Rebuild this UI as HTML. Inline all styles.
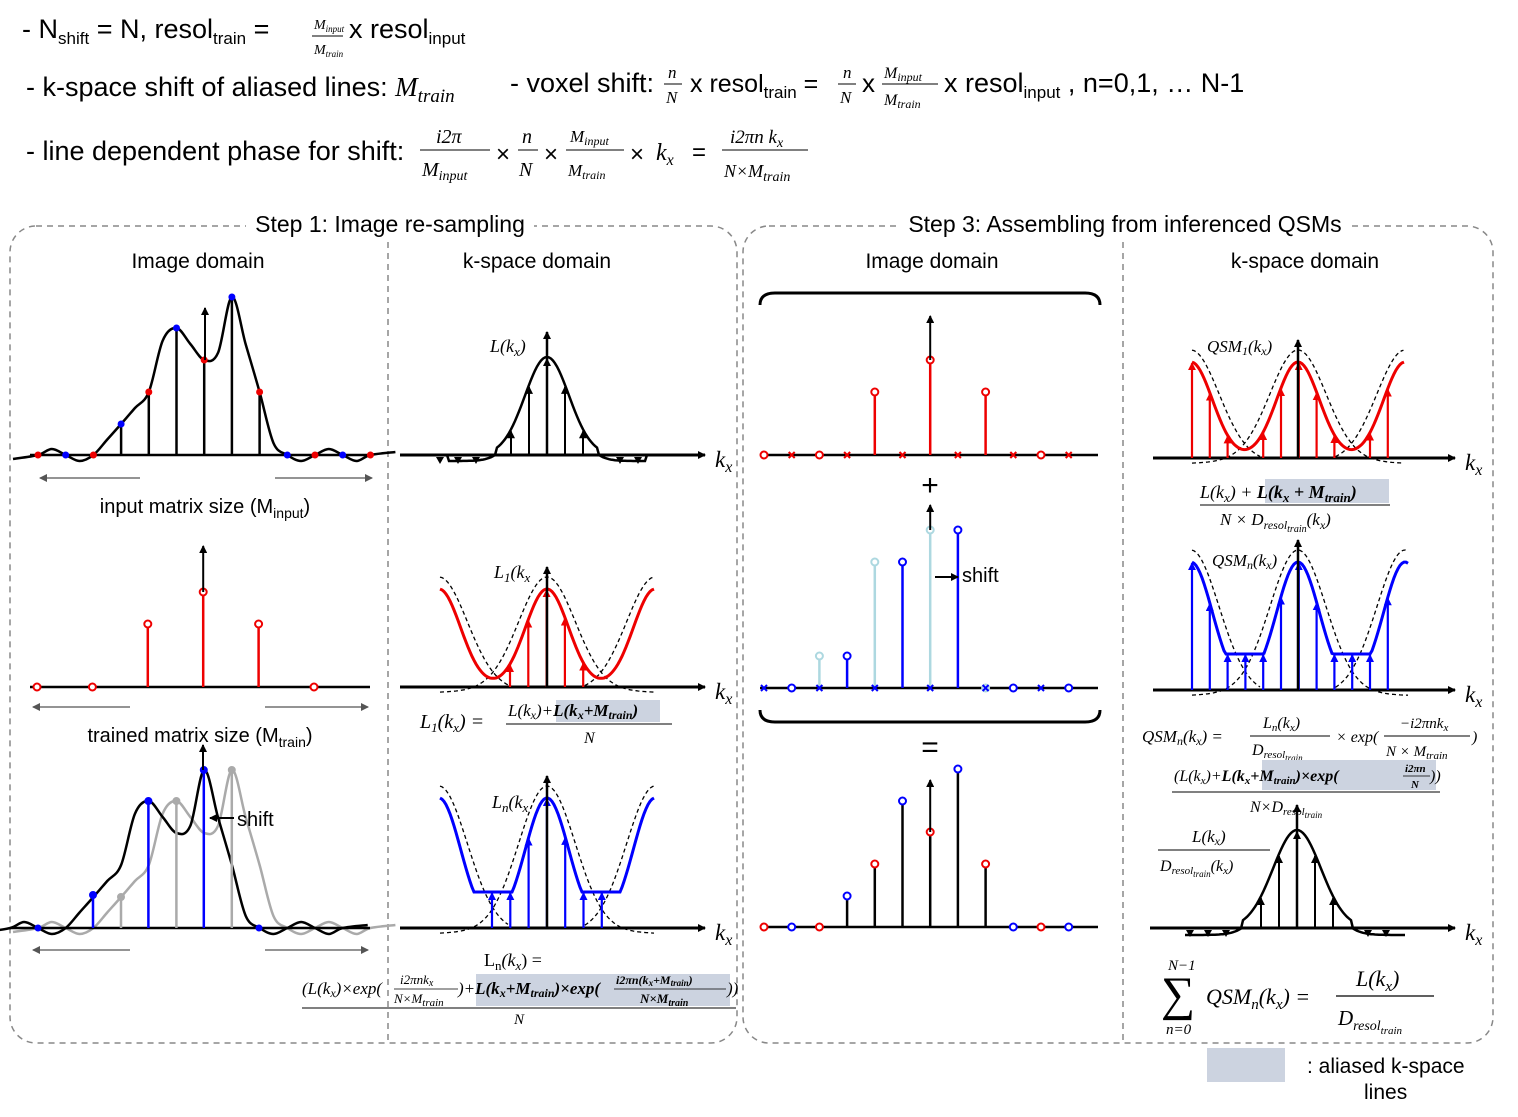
<!DOCTYPE html>
<html><head><meta charset="utf-8"><style>
html,body{margin:0;padding:0;background:#fff}
svg{display:block}
.s{font-family:"Liberation Sans",sans-serif;fill:#000}
.m{font-family:"Liberation Serif",serif;font-style:italic;fill:#000}
</style></head><body>
<svg id="c" width="1518" height="1117" viewBox="0 0 1518 1117" xmlns="http://www.w3.org/2000/svg">
<defs>
<marker id="ab" markerWidth="8" markerHeight="8" refX="7" refY="4" orient="auto" markerUnits="userSpaceOnUse"><path d="M0,0 L8,4 L0,8 z" fill="#000"/></marker>
<marker id="ar" markerWidth="8" markerHeight="8" refX="7" refY="4" orient="auto" markerUnits="userSpaceOnUse"><path d="M0,0 L8,4 L0,8 z" fill="#e00"/></marker>
<marker id="au" markerWidth="8" markerHeight="8" refX="7" refY="4" orient="auto" markerUnits="userSpaceOnUse"><path d="M0,0 L8,4 L0,8 z" fill="#00f"/></marker>
<marker id="ag" markerWidth="8" markerHeight="8" refX="7" refY="4" orient="auto" markerUnits="userSpaceOnUse"><path d="M0,0 L8,4 L0,8 z" fill="#555"/></marker>
</defs>
<g>
<text class="s" x="22" y="38" font-size="27">- N<tspan font-size="17" dy="6">shift</tspan><tspan dy="-6"> = N, resol</tspan><tspan font-size="17" dy="6">train</tspan><tspan dy="-6"> =</tspan></text>
<text class="m" x="314" y="29" font-size="14">M<tspan font-size="9" dy="3">input</tspan></text>
<line x1="312" y1="36" x2="343" y2="36" stroke="#000"/>
<text class="m" x="314" y="54" font-size="14">M<tspan font-size="9" dy="3">train</tspan></text>
<text class="s" x="349" y="38" font-size="27">x resol<tspan font-size="17" dy="6">input</tspan></text>
<text class="s" x="26" y="96" font-size="27">- k-space shift of aliased lines: <tspan font-family="Liberation Serif" font-style="italic">M</tspan><tspan font-family="Liberation Serif" font-style="italic" font-size="19" dy="6">train</tspan></text>
<text class="s" x="510" y="92" font-size="27">- voxel shift:</text>
<text class="m" x="668" y="78" font-size="17">n</text><line x1="664" y1="84" x2="682" y2="84" stroke="#000"/><text class="m" x="666" y="103" font-size="17">N</text>
<text class="s" x="690" y="92" font-size="25">x resol<tspan font-size="17" dy="6">train</tspan><tspan dy="-6"> =</tspan></text>
<text class="m" x="843" y="78" font-size="17">n</text><line x1="838" y1="84" x2="856" y2="84" stroke="#000"/><text class="m" x="840" y="103" font-size="17">N</text>
<text class="s" x="862" y="92" font-size="26">x</text>
<text class="m" x="884" y="78" font-size="16">M<tspan font-size="12" dy="3">input</tspan></text><line x1="882" y1="84" x2="938" y2="84" stroke="#000"/><text class="m" x="884" y="105" font-size="16">M<tspan font-size="12" dy="3">train</tspan></text>
<text class="s" x="944" y="92" font-size="27">x resol<tspan font-size="17" dy="6">input</tspan><tspan dy="-6"> , n=0,1, … N-1</tspan></text>
<text class="s" x="26" y="160" font-size="27">- line dependent phase for shift:</text>
<text class="m" x="436" y="143" font-size="20">i2π</text><line x1="420" y1="150" x2="490" y2="150" stroke="#000"/><text class="m" x="422" y="176" font-size="20">M<tspan font-size="14" dy="4">input</tspan></text>
<text class="s" x="496" y="162" font-size="24">×</text>
<text class="m" x="522" y="143" font-size="20">n</text><line x1="518" y1="150" x2="538" y2="150" stroke="#000"/><text class="m" x="519" y="176" font-size="20">N</text>
<text class="s" x="544" y="162" font-size="24">×</text>
<text class="m" x="570" y="142" font-size="17">M<tspan font-size="12" dy="3">input</tspan></text><line x1="566" y1="150" x2="624" y2="150" stroke="#000"/><text class="m" x="568" y="176" font-size="17">M<tspan font-size="12" dy="3">train</tspan></text>
<text class="s" x="630" y="162" font-size="24">×</text>
<text class="m" x="656" y="160" font-size="24">k<tspan font-size="16" dy="5">x</tspan></text>
<text class="s" x="692" y="160" font-size="24">=</text>
<text class="m" x="730" y="143" font-size="19">i2πn k<tspan font-size="14" dy="4">x</tspan></text><line x1="722" y1="150" x2="808" y2="150" stroke="#000"/><text class="m" x="724" y="177" font-size="18">N×M<tspan font-size="14" dy="4">train</tspan></text>
</g>
<g>
<rect x="10" y="226" width="727" height="817" rx="26" fill="none" stroke="#888" stroke-width="1.5" stroke-dasharray="6,5"/>
<rect x="246" y="210" width="288" height="30" fill="#fff"/>
<text class="s" x="390" y="232" font-size="23" text-anchor="middle">Step 1: Image re-sampling</text>
<line x1="388" y1="242" x2="388" y2="1043" stroke="#888" stroke-width="1.5" stroke-dasharray="6,5"/>
<text class="s" x="198" y="268" font-size="21" text-anchor="middle">Image domain</text>
<text class="s" x="537" y="268" font-size="21" text-anchor="middle">k-space domain</text>
</g>
<g>
<rect x="743" y="226" width="750" height="817" rx="26" fill="none" stroke="#888" stroke-width="1.5" stroke-dasharray="6,5"/>
<rect x="898" y="210" width="454" height="30" fill="#fff"/>
<text class="s" x="1125" y="232" font-size="23" text-anchor="middle">Step 3: Assembling from inferenced QSMs</text>
<line x1="1123" y1="242" x2="1123" y2="1043" stroke="#888" stroke-width="1.5" stroke-dasharray="6,5"/>
<text class="s" x="932" y="268" font-size="21" text-anchor="middle">Image domain</text>
<text class="s" x="1305" y="268" font-size="21" text-anchor="middle">k-space domain</text>
</g>
<g id="marks"></g>
<g>
<text class="s" x="205" y="513" font-size="20" text-anchor="middle">input matrix size (M<tspan font-size="14" dy="5">input</tspan><tspan dy="-5">)</tspan></text>
<text class="s" x="200" y="742" font-size="20" text-anchor="middle">trained matrix size (M<tspan font-size="14" dy="5">train</tspan><tspan dy="-5">)</tspan></text>
<text class="s" x="237" y="826" font-size="20">shift</text>
<line x1="234" y1="818" x2="210" y2="818" stroke="#000" stroke-width="2" marker-end="url(#ab)"/>
<text class="s" x="962" y="582" font-size="20">shift</text>
<line x1="935" y1="577" x2="958" y2="577" stroke="#000" stroke-width="2" marker-end="url(#ab)"/>
<text class="s" x="930" y="495" font-size="30" text-anchor="middle">+</text>
<text class="s" x="930" y="757" font-size="30" text-anchor="middle">=</text>
<path d="M760,305 Q760,293 775,293 L1085,293 Q1100,293 1100,305" fill="none" stroke="#000" stroke-width="3"/>
<path d="M760,710 Q760,722 775,722 L1085,722 Q1100,722 1100,710" fill="none" stroke="#000" stroke-width="3"/>
<text class="m" x="490" y="352" font-size="18">L(k<tspan font-size="13" dy="4">x</tspan><tspan dy="-4">)</tspan></text>
<text class="m" x="494" y="578" font-size="18">L<tspan font-size="13" dy="4">1</tspan><tspan dy="-4">(k</tspan><tspan font-size="13" dy="4">x</tspan></text>
<text class="m" x="492" y="808" font-size="18">L<tspan font-size="13" dy="4">n</tspan><tspan dy="-4">(k</tspan><tspan font-size="13" dy="4">x</tspan></text>
<text class="m" x="420" y="728" font-size="20">L<tspan font-size="13" dy="4">1</tspan><tspan dy="-4">(k</tspan><tspan font-size="13" dy="4">x</tspan><tspan dy="-4">) =</tspan></text>
<rect x="556" y="700" width="104" height="22" fill="#ccd3e0"/>
<text class="m" x="508" y="716" font-size="17">L(k<tspan font-size="12" dy="3">x</tspan><tspan dy="-3">)+</tspan><tspan font-weight="bold">L(k</tspan><tspan font-size="12" dy="3" font-weight="bold">x</tspan><tspan dy="-3" font-weight="bold">+M</tspan><tspan font-size="12" dy="3" font-weight="bold">train</tspan><tspan dy="-3" font-weight="bold">)</tspan></text>
<line x1="506" y1="724" x2="672" y2="724" stroke="#000"/>
<text class="m" x="584" y="743" font-size="16">N</text>
<text x="484" y="966" font-size="18" font-family="Liberation Serif" fill="#000">L<tspan font-size="13" dy="4">n</tspan><tspan dy="-4" font-style="italic">(k</tspan><tspan font-size="13" dy="4" font-style="italic">x</tspan><tspan dy="-4">) =</tspan></text>
<rect x="476" y="974" width="254" height="32" fill="#ccd3e0"/>
<text class="m" x="302" y="994" font-size="17">(L(k<tspan font-size="12" dy="3">x</tspan><tspan dy="-3">)×exp(</tspan></text>
<text class="m" x="400" y="984" font-size="13">i2πnk<tspan font-size="10" dy="2">x</tspan></text><line x1="394" y1="989" x2="458" y2="989" stroke="#000" stroke-width="0.8"/><text class="m" x="394" y="1003" font-size="13">N×M<tspan font-size="11" dy="3">train</tspan></text>
<text class="m" x="458" y="994" font-size="17" font-weight="bold"><tspan font-weight="normal">)+</tspan>L(k<tspan font-size="12" dy="3">x</tspan><tspan dy="-3">+M</tspan><tspan font-size="12" dy="3">train</tspan><tspan dy="-3">)×exp(</tspan></text>
<text class="m" x="616" y="984" font-size="12" font-weight="bold">i2πn(k<tspan font-size="9" dy="2">x</tspan><tspan dy="-2">+M</tspan><tspan font-size="9" dy="2">train</tspan><tspan dy="-2">)</tspan></text><line x1="614" y1="989" x2="726" y2="989" stroke="#000" stroke-width="0.8"/><text class="m" x="640" y="1003" font-size="13" font-weight="bold">N×M<tspan font-size="10" dy="3">train</tspan></text>
<text class="m" x="727" y="994" font-size="17">))</text>
<line x1="302" y1="1008" x2="736" y2="1008" stroke="#000"/>
<text class="m" x="514" y="1024" font-size="15">N</text>
<text class="m" x="1207" y="352" font-size="17">QSM<tspan font-size="12" dy="3">1</tspan><tspan dy="-3">(k</tspan><tspan font-size="12" dy="3">x</tspan><tspan dy="-3">)</tspan></text>
<rect x="1265" y="479" width="124" height="24" fill="#ccd3e0"/>
<text class="m" x="1200" y="498" font-size="18">L(k<tspan font-size="13" dy="4">x</tspan><tspan dy="-4">) + </tspan><tspan font-weight="bold">L(k</tspan><tspan font-size="13" dy="4" font-weight="bold">x</tspan><tspan dy="-4" font-weight="bold"> + M</tspan><tspan font-size="13" dy="4" font-weight="bold">train</tspan><tspan dy="-4" font-weight="bold">)</tspan></text>
<line x1="1200" y1="505" x2="1390" y2="505" stroke="#000"/>
<text class="m" x="1220" y="525" font-size="17">N × D<tspan font-size="12" dy="4">resol</tspan><tspan font-size="10" dy="3">train</tspan><tspan dy="-7">(k</tspan><tspan font-size="12" dy="4">x</tspan><tspan dy="-4">)</tspan></text>
<text class="m" x="1212" y="566" font-size="17">QSM<tspan font-size="12" dy="3">n</tspan><tspan dy="-3">(k</tspan><tspan font-size="12" dy="3">x</tspan><tspan dy="-3">)</tspan></text>
<text class="m" x="1142" y="742" font-size="17">QSM<tspan font-size="12" dy="3">n</tspan><tspan dy="-3">(k</tspan><tspan font-size="12" dy="3">x</tspan><tspan dy="-3">) =</tspan></text>
<text class="m" x="1263" y="728" font-size="16">L<tspan font-size="11" dy="3">n</tspan><tspan dy="-3">(k</tspan><tspan font-size="11" dy="3">x</tspan><tspan dy="-3">)</tspan></text>
<line x1="1250" y1="736" x2="1330" y2="736" stroke="#000"/>
<text class="m" x="1252" y="755" font-size="16">D<tspan font-size="11" dy="3">resol</tspan><tspan font-size="9" dy="3">train</tspan></text>
<text class="m" x="1336" y="742" font-size="16">× exp(</text>
<text class="m" x="1400" y="728" font-size="15">−i2πnk<tspan font-size="11" dy="3">x</tspan></text>
<line x1="1384" y1="736" x2="1470" y2="736" stroke="#000"/>
<text class="m" x="1386" y="756" font-size="15">N × M<tspan font-size="11" dy="3">train</tspan></text>
<text class="m" x="1472" y="742" font-size="16">)</text>
<rect x="1262" y="760" width="174" height="30" fill="#ccd3e0"/>
<text class="m" x="1174" y="781" font-size="16">(L(k<tspan font-size="11" dy="3">x</tspan><tspan dy="-3">)+</tspan><tspan font-weight="bold">L(k</tspan><tspan font-size="11" dy="3" font-weight="bold">x</tspan><tspan dy="-3" font-weight="bold">+M</tspan><tspan font-size="11" dy="3" font-weight="bold">train</tspan><tspan dy="-3" font-weight="bold">)×exp(</tspan></text>
<text class="m" x="1405" y="772" font-size="11" font-weight="bold">i2πn</text><line x1="1403" y1="776" x2="1430" y2="776" stroke="#000" stroke-width="0.8"/><text class="m" x="1411" y="788" font-size="11" font-weight="bold">N</text>
<text class="m" x="1430" y="781" font-size="16">))</text>
<line x1="1172" y1="792" x2="1440" y2="792" stroke="#000"/>
<text class="m" x="1250" y="812" font-size="16">N×D<tspan font-size="11" dy="3">resol</tspan><tspan font-size="9" dy="3">train</tspan></text>
<text class="m" x="1192" y="842" font-size="17">L(k<tspan font-size="12" dy="3">x</tspan><tspan dy="-3">)</tspan></text>
<line x1="1158" y1="850" x2="1270" y2="850" stroke="#000"/>
<text class="m" x="1160" y="871" font-size="16">D<tspan font-size="11" dy="3">resol</tspan><tspan font-size="9" dy="3">train</tspan><tspan dy="-6">(k</tspan><tspan font-size="11" dy="3">x</tspan><tspan dy="-3">)</tspan></text>
<text class="m" x="1168" y="970" font-size="15">N−1</text>
<text x="1161" y="1010" font-size="48" font-family="Liberation Serif" fill="#000">∑</text>
<text class="m" x="1166" y="1034" font-size="15">n=0</text>
<text class="m" x="1206" y="1004" font-size="22">QSM<tspan font-size="15" dy="5">n</tspan><tspan dy="-5">(k</tspan><tspan font-size="15" dy="5">x</tspan><tspan dy="-5">) =</tspan></text>
<text class="m" x="1356" y="986" font-size="22">L(k<tspan font-size="15" dy="5">x</tspan><tspan dy="-5">)</tspan></text>
<line x1="1336" y1="996" x2="1434" y2="996" stroke="#000" stroke-width="1.3"/>
<text class="m" x="1338" y="1025" font-size="21">D<tspan font-size="14" dy="5">resol</tspan><tspan font-size="11" dy="4">train</tspan></text>
</g>
<g>
<rect x="1207" y="1048" width="78" height="34" fill="#ccd3e0"/>
<text class="s" x="1307" y="1073" font-size="21">: aliased k-space</text>
<text class="s" x="1364" y="1099" font-size="21">lines</text>
</g>
</svg>
<script>
// ---- data ----
var inputHeights=[0,0,0,31,63,127,95,158,63,0,0,0,0];
var trainHeights=[0,0,63,95,63,0];
var shiftedBlue=[33,127,158];
var shiftedGray=[31,127,158];
var step3Red=[0,0,63,95,63,0];
var step3Blue=[0,32,126,158,0,0];
var step3Light=[32,126,158,0];
var resultHeights=[0,0,0,31,63,126,95,158,63,0,0,0];
var kPeak=[98];
var kStemOffsets=[-2,-1,0,1,2];

var NS='http://www.w3.org/2000/svg';
var G=document.getElementById('marks');
function el(t,a,p){var e=document.createElementNS(NS,t);for(var k in a)e.setAttribute(k,a[k]);(p||G).appendChild(e);return e;}
function axis(x1,x2,y,lab){
 var a=el('line',{x1:x1,y1:y,x2:x2,y2:y,stroke:'#000','stroke-width':3,'marker-end':'url(#ab)'});
 
 
 if(lab){var t=el('text',{x:x2+10,y:y+12,'class':'m','font-size':23});t.textContent='k';var s=el('tspan',{'font-size':16,dy:5},t);s.textContent='x';}
}
function base(x1,x2,y){var a=el('line',{x1:x1,y1:y,x2:x2,y2:y,stroke:'#000','stroke-width':2.5});}
function rangeArrows(y,a1,a2,b1,b2){
 el('line',{x1:a2,y1:y,x2:a1,y2:y,stroke:'#555','stroke-width':1.3,'marker-end':'url(#ag)'});
 el('line',{x1:b1,y1:y,x2:b2,y2:y,stroke:'#555','stroke-width':1.3,'marker-end':'url(#ag)'});
}
function stem(x,y0,h,col,kind,name){
 var l=el('line',{x1:x,y1:y0,x2:x,y2:y0-h,stroke:col,'stroke-width':2.5});
 
 
 if(kind==='o'){var c=el('circle',{cx:x,cy:y0-h,r:3.5,fill:'#fff',stroke:col,'stroke-width':2});}
 if(kind==='f'){var c2=el('circle',{cx:x,cy:y0-h,r:3.5,fill:col,stroke:col});}
 if(kind==='x'){el('path',{d:'M'+(x-3)+','+(y0-3)+'l6,6m0,-6l-6,6',stroke:col,'stroke-width':2});}
}
function smooth(pts){var d='M'+pts[0][0]+','+pts[0][1];for(var i=0;i<pts.length-1;i++){var p0=pts[Math.max(0,i-1)],p1=pts[i],p2=pts[i+1],p3=pts[Math.min(pts.length-1,i+2)];d+=' C'+(p1[0]+(p2[0]-p0[0])/6)+','+(p1[1]+(p2[1]-p0[1])/6)+' '+(p2[0]-(p3[0]-p1[0])/6)+','+(p2[1]-(p3[1]-p1[1])/6)+' '+p2[0]+','+p2[1];}return d;}
function curveThrough(x0,dx,y0,hs,col,shift){
 var pts=[[x0-25+shift,y0+4]];
 hs.forEach(function(h,i){var x=x0+dx*i+shift;pts.push([x,y0-h]);if(i<hs.length-1){var hn=hs[i+1];var m=(h+hn)/2;if(h===0&&hn===0)m=(i%2?-6:6);else if(h>0&&hn===0)m=h*0.35-10;else if(h>0&&hn>0&&i>=4&&i<=7&&i%2===0)m=Math.max(h,hn)*0.9+(i===6?-40:0);pts.push([x+dx/2,y0-m]);}});
 pts.push([x0+dx*(hs.length-1)+25+shift,y0-3]);
 return el('path',{d:smooth(pts),fill:'none',stroke:col,'stroke-width':2.5});
}
var dx=27.7;
(function(){
 var y0=455,x0=38;
 var c=curveThrough(x0,dx,y0,inputHeights,'#000',0);
 
 
 base(30,372,y0);
 inputHeights.forEach(function(h,i){stem(x0+dx*i,y0,h,'#000','',(i%2?'input-sample-blue':'input-sample-red'));el('circle',{cx:x0+dx*i,cy:y0-h,r:3.5,fill:i%2?'#00f':'#e00'});});
 el('line',{x1:205,y1:y0-95,x2:205,y2:308,stroke:'#000','stroke-width':2,'marker-end':'url(#ab)'});
 rangeArrows(478,40,140,275,372);
})();
(function(){
 var y0=687,x0=37,d=55.4;
 base(30,370,y0);
 trainHeights.forEach(function(h,i){stem(x0+d*i,y0,h,'#e00','o','trained-sample');});
 el('line',{x1:x0+d*3,y1:y0-trainHeights[3],x2:x0+d*3,y2:546,stroke:'#000','stroke-width':2,'marker-end':'url(#ab)'});
 rangeArrows(707,33,130,265,368);
})();
(function(){
 var y0=928,x0=38;
 var g=curveThrough(x0,dx,y0,inputHeights,'#aaa',0);
 var b=curveThrough(x0,dx,y0,inputHeights,'#000',-dx);
 base(10,370,y0);
 shiftedGray.forEach(function(h,i){stem(121+55.4*i,y0,h,'#aaa','f','gray-sample');});
 shiftedBlue.forEach(function(h,i){stem(93+55.4*i,y0,h,'#00f','f','blue-sample');});
 el('line',{x1:203,y1:y0-158,x2:203,y2:745,stroke:'#000','stroke-width':2,'marker-end':'url(#ab)'});
 el('circle',{cx:38,cy:y0,r:3.5,fill:'#00f'});el('circle',{cx:259,cy:y0,r:3.5,fill:'#00f'});
 rangeArrows(950,33,130,265,368);
})();
function gauss(x,c,s){return Math.exp(-(x-c)*(x-c)/(2*s*s));}
function pathFn(x1,x2,f){var d='';for(var x=x1;x<=x2;x+=2){d+=(d?'L':'M')+x+','+f(x).toFixed(1);}return d;}
var A=kPeak[0];
(function(){
 var y0=455,c=547;
 var f=function(x){return y0-A*gauss(x,c,22)-(Math.abs(x-c)>50&&Math.abs(x-c)<100?-6:0);};
 var p=el('path',{d:pathFn(437,655,f),fill:'none',stroke:'#000','stroke-width':2.5});
 
 axis(400,705,y0,true);
 el('line',{x1:c,y1:y0,x2:c,y2:332,stroke:'#000','stroke-width':2.5,'marker-end':'url(#ab)'});
 kStemOffsets.forEach(function(k){var x=c+18*k;var s=el('line',{x1:x,y1:y0,x2:x,y2:f(x)+2,stroke:'#000','stroke-width':2,'marker-end':'url(#ab)'});});
 [440,458,476,620,638].forEach(function(x){el('path',{d:'M'+(x-4)+','+(y0+2)+'l8,0l-4,7z',fill:'#000'});});
})();
function periodic(x,c,period,s){var v=0;for(var k=-2;k<=2;k++)v+=gauss(x,c+k*period,s);return v;}
function kPanel(y0,c,period,col,marker,amp,floorv,x1,x2,ax1,ax2,stemStep,name,sx1,sx2){
 var f=function(x){var v=periodic(x,c,period,period*0.2);var h=amp*v;if(floorv)h=Math.max(h,floorv);return y0-h;};
 var d1=function(x){return y0-(amp+12)*gauss(x,c,period*0.26)+6*(1-gauss(x,c,period*0.5));};
 el('path',{d:pathFn(x1,x2,d1),fill:'none',stroke:'#000','stroke-width':1.3,'stroke-dasharray':'4,3'});
 el('path',{d:pathFn(x1,c-period*0.35,function(x){return d1(x+period);}),fill:'none',stroke:'#000','stroke-width':1.3,'stroke-dasharray':'4,3'});
 el('path',{d:pathFn(c+period*0.35,x2,function(x){return d1(x-period);}),fill:'none',stroke:'#000','stroke-width':1.3,'stroke-dasharray':'4,3'});
 var p=el('path',{d:pathFn(x1,x2,f),fill:'none',stroke:col,'stroke-width':3});
 
 axis(ax1,ax2,y0,true);
 for(var x=sx1;x<=sx2+0.1;x+=stemStep){var h=y0-f(x);if(h<14)continue;var s=el('line',{x1:x,y1:y0,x2:x,y2:f(x)+1,stroke:col,'stroke-width':2.2,'marker-end':'url(#'+marker+')'});}
 el('line',{x1:c,y1:y0,x2:c,y2:y0-amp-22,stroke:'#000','stroke-width':2.5,'marker-end':'url(#ab)'});
}
kPanel(687,547,108,'#e00','ar',A,0,440,655,400,705,18.3,'L1-curve',510,585);
kPanel(928,547,108,'#00f','au',130,36,440,655,400,705,18.3,'Ln-curve',492,603);
kPanel(458,1298,107,'#e00','ar',96,0,1192,1405,1153,1455,17.8,'QSM1-curve',1192,1390);
kPanel(690,1298,107,'#00f','au',128,36,1192,1408,1153,1455,17.8,'QSMn-curve',1192,1390);
(function(){
 var y0=928,c=1297;
 var f=function(x){return y0-98*gauss(x,c,24)+((Math.abs(x-c)>55)?7:0);};
 var p=el('path',{d:pathFn(1185,1405,f),fill:'none',stroke:'#000','stroke-width':2.5});
 
 axis(1150,1455,y0,true);
 el('line',{x1:c,y1:y0,x2:c,y2:805,stroke:'#000','stroke-width':2.5,'marker-end':'url(#ab)'});
 kStemOffsets.forEach(function(k){var x=c+18*k;el('line',{x1:x,y1:y0,x2:x,y2:f(x)+2,stroke:'#000','stroke-width':2,'marker-end':'url(#ab)'});});
 [1190,1208,1226,1368,1386].forEach(function(x){el('path',{d:'M'+(x-4)+','+(y0+2)+'l8,0l-4,7z',fill:'#000'});});
})();
(function(){
 var x0=764;
 base(760,1098,455);
 [0,2,4,6,8,10].forEach(function(j,i){stem(x0+dx*j,455,step3Red[i],'#e00','o','step3-red-sample');});
 [1,3,5,7,9,11].forEach(function(j){stem(x0+dx*j,455,0,'#e00','x','alias-mark');});
 el('line',{x1:x0+dx*6,y1:455-95,x2:x0+dx*6,y2:316,stroke:'#000','stroke-width':2,'marker-end':'url(#ab)'});
 base(760,1098,688);
 [1,3,5,7,9,11].forEach(function(j,i){stem(x0+dx*j,688,step3Blue[i],'#00f','o','step3-blue-sample');});
 [2,4,6,8].forEach(function(j,i){stem(x0+dx*j,688,step3Light[i],'#add8e0','o','step3-lightblue-sample');});
 [0,2,4,6,8,10].forEach(function(j){stem(x0+dx*j,688,0,'#00f','x','alias-mark');});
 el('line',{x1:x0+dx*6,y1:530,x2:x0+dx*6,y2:505,stroke:'#000','stroke-width':2,'marker-end':'url(#ab)'});
 base(760,1098,927);
 resultHeights.forEach(function(h,i){stem(x0+dx*i,927,h,'#000','','result-sample');el('circle',{cx:x0+dx*i,cy:927-h,r:3.5,fill:'#fff',stroke:i%2?'#00f':'#e00','stroke-width':2});});
 el('line',{x1:x0+dx*6,y1:927-95,x2:x0+dx*6,y2:780,stroke:'#000','stroke-width':2,'marker-end':'url(#ab)'});
})();
</script>
</body></html>
